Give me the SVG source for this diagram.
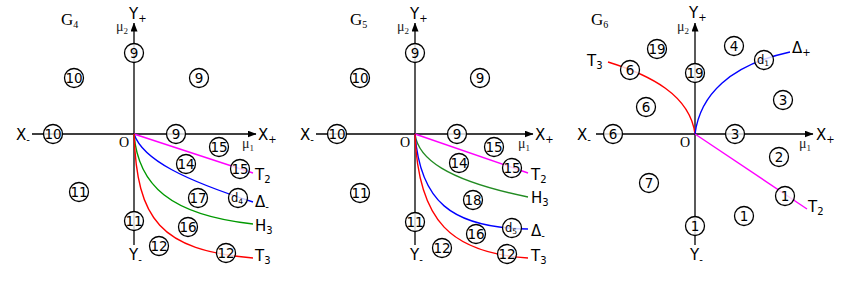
<svg xmlns="http://www.w3.org/2000/svg" width="844" height="281" viewBox="0 0 844 281">
<defs>
<marker id="ar" markerWidth="9" markerHeight="7" refX="8.5" refY="3.5" orient="auto" markerUnits="userSpaceOnUse"><path d="M0,0 L9,3.5 L0,7 z" fill="#000"/></marker>
<style>
.ax{stroke:#000;stroke-width:1.3;fill:none}
.cv{fill:none;stroke-width:1.4}
.nc{fill:#fff;fill-opacity:0.8;stroke:#000;stroke-width:1.3}
.nt{font-family:"DejaVu Sans",sans-serif;font-size:13.5px;text-anchor:middle;fill:#000}
.dt{font-family:"DejaVu Sans",sans-serif;font-size:11.5px;text-anchor:middle;fill:#000}
.lb{font-family:"DejaVu Sans",sans-serif;font-size:15px;fill:#000}
.ser{font-family:"Liberation Serif",serif;fill:#000}
.mu{font-family:"Liberation Serif",serif;font-size:14px;fill:#222}
</style>
</defs>
<rect width="844" height="281" fill="#fff"/>

<!-- ============ G4 ============ -->
<g id="G4-axes">
<line class="ax" x1="32" y1="134" x2="256" y2="134" marker-end="url(#ar)"/>
<line class="ax" x1="134" y1="245" x2="134" y2="23" marker-end="url(#ar)"/>
<text class="ser" x="61" y="25" font-size="17">G<tspan font-size="10" dy="3">4</tspan></text>
<text class="lb" x="129" y="19" font-size="14">Y<tspan font-size="10" dy="3">+</tspan></text>
<text class="mu" x="116" y="31">μ<tspan font-size="9" dy="3">2</tspan></text>
<text class="lb" x="258" y="140" font-size="14">X<tspan font-size="10" dy="3">+</tspan></text>
<text class="lb" x="16" y="140" font-size="14">X<tspan font-size="10" dy="3">-</tspan></text>
<text class="lb" x="129" y="260" font-size="14">Y<tspan font-size="10" dy="3">-</tspan></text>
<text class="ser" x="119" y="147" font-size="14">O</text>
<text class="mu" x="242" y="148">μ<tspan font-size="9" dy="3">1</tspan></text>
<text class="lb" x="255" y="180">T<tspan font-size="10" dy="3">2</tspan></text>
<text class="lb" x="255" y="207">Δ<tspan font-size="10" dy="3">-</tspan></text>
<text class="lb" x="255" y="231">H<tspan font-size="10" dy="3">3</tspan></text>
<text class="lb" x="255" y="261">T<tspan font-size="10" dy="3">3</tspan></text>
</g>

<!-- ============ G5 ============ -->
<g id="G5-axes">
<line class="ax" x1="316" y1="134" x2="533" y2="134" marker-end="url(#ar)"/>
<line class="ax" x1="415" y1="245" x2="415" y2="23" marker-end="url(#ar)"/>
<text class="ser" x="350" y="25" font-size="17">G<tspan font-size="10" dy="3">5</tspan></text>
<text class="lb" x="410" y="19" font-size="14">Y<tspan font-size="10" dy="3">+</tspan></text>
<text class="mu" x="397" y="31">μ<tspan font-size="9" dy="3">2</tspan></text>
<text class="lb" x="535" y="140" font-size="14">X<tspan font-size="10" dy="3">+</tspan></text>
<text class="lb" x="300" y="140" font-size="14">X<tspan font-size="10" dy="3">-</tspan></text>
<text class="lb" x="410" y="260" font-size="14">Y<tspan font-size="10" dy="3">-</tspan></text>
<text class="ser" x="400" y="147" font-size="14">O</text>
<text class="mu" x="518" y="148">μ<tspan font-size="9" dy="3">1</tspan></text>
<text class="lb" x="531" y="180">T<tspan font-size="10" dy="3">2</tspan></text>
<text class="lb" x="531" y="203">H<tspan font-size="10" dy="3">3</tspan></text>
<text class="lb" x="531" y="236">Δ<tspan font-size="10" dy="3">-</tspan></text>
<text class="lb" x="531" y="261">T<tspan font-size="10" dy="3">3</tspan></text>
</g>

<!-- ============ G6 ============ -->
<g id="G6-axes">
<line class="ax" x1="596" y1="134" x2="813" y2="134" marker-end="url(#ar)"/>
<line class="ax" x1="695" y1="245" x2="695" y2="23" marker-end="url(#ar)"/>
<text class="ser" x="591" y="25" font-size="17">G<tspan font-size="10" dy="3">6</tspan></text>
<text class="lb" x="689" y="18" font-size="14">Y<tspan font-size="10" dy="3">+</tspan></text>
<text class="mu" x="677" y="31">μ<tspan font-size="9" dy="3">2</tspan></text>
<text class="lb" x="816" y="140" font-size="14">X<tspan font-size="10" dy="3">+</tspan></text>
<text class="lb" x="577" y="140" font-size="14">X<tspan font-size="10" dy="3">-</tspan></text>
<text class="lb" x="690" y="260" font-size="14">Y<tspan font-size="10" dy="3">-</tspan></text>
<text class="ser" x="680" y="147" font-size="14">O</text>
<text class="mu" x="799" y="148">μ<tspan font-size="9" dy="3">1</tspan></text>
<text class="lb" x="808" y="212">T<tspan font-size="10" dy="3">2</tspan></text>
<text class="lb" x="587" y="66">T<tspan font-size="10" dy="3">3</tspan></text>
<text class="lb" x="792" y="53">Δ<tspan font-size="10" dy="3">+</tspan></text>
</g>

<!-- connectors / curves -->
<g id="connectors">
<path class="cv" stroke="#ff00ff" d="M134,134 L253,173"/>
<path class="cv" stroke="#0000ff" d="M134,134 C143,160 185,180 253,202"/>
<path class="cv" stroke="#009900" d="M134,134 C138,185 170,215 253,224"/>
<path class="cv" stroke="#ff0000" d="M134,134 C137,220 160,250 253,258"/>

<path class="cv" stroke="#ff00ff" d="M415,134 L528,173"/>
<path class="cv" stroke="#228b22" d="M415,134 C418,158 445,180 528,197"/>
<path class="cv" stroke="#0000ff" stroke-width="2" d="M415,134 C420,200 450,228 528,229"/>
<path class="cv" stroke="#ff0000" d="M415,134 C418,222 452,253 528,258"/>

<path class="cv" stroke="#ff00ff" d="M695,134 L807,209"/>
<path class="cv" stroke="#ff0000" d="M608,62 C650,75 690,95 695,134"/>
<path class="cv" stroke="#0000ff" d="M695,134 C700,95 730,65 790,52"/>
</g>

<!-- nodes G4 -->
<g id="g4-n9a"><circle class="nc" cx="134" cy="53" r="9.5"/><text class="nt" x="134" y="58">9</text></g>
<g id="g4-n10a"><circle class="nc" cx="74" cy="78" r="9.5"/><text class="nt" x="74" y="83">10</text></g>
<g id="g4-n9b"><circle class="nc" cx="199" cy="78" r="9.5"/><text class="nt" x="199" y="83">9</text></g>
<g id="g4-n10b"><circle class="nc" cx="53" cy="134" r="9.5"/><text class="nt" x="53" y="139">10</text></g>
<g id="g4-n9c"><circle class="nc" cx="176" cy="134" r="9.5"/><text class="nt" x="176" y="139">9</text></g>
<g id="g4-n15a"><circle class="nc" cx="219" cy="147" r="9.5"/><text class="nt" x="219" y="152">15</text></g>
<g id="g4-n14"><circle class="nc" cx="186" cy="164" r="9.5"/><text class="nt" x="186" y="169">14</text></g>
<g id="g4-n15b"><circle class="nc" cx="240" cy="169" r="9.5"/><text class="nt" x="240" y="174">15</text></g>
<g id="g4-n11a"><circle class="nc" cx="79" cy="192" r="9.5"/><text class="nt" x="79" y="197">11</text></g>
<g id="g4-n17"><circle class="nc" cx="198" cy="198" r="9.5"/><text class="nt" x="198" y="203">17</text></g>
<g id="g4-d4"><circle class="nc" cx="238" cy="198" r="9.5"/><text class="dt" x="237" y="202">d<tspan font-size="7.5" dy="2">4</tspan></text></g>
<g id="g4-n11b"><circle class="nc" cx="134" cy="221" r="9.5"/><text class="nt" x="134" y="226">11</text></g>
<g id="g4-n16"><circle class="nc" cx="188" cy="227" r="9.5"/><text class="nt" x="188" y="232">16</text></g>
<g id="g4-n12a"><circle class="nc" cx="159" cy="246" r="9.5"/><text class="nt" x="159" y="251">12</text></g>
<g id="g4-n12b"><circle class="nc" cx="226" cy="253" r="9.5"/><text class="nt" x="226" y="258">12</text></g>

<!-- nodes G5 -->
<g id="g5-n9a"><circle class="nc" cx="415" cy="53" r="9.5"/><text class="nt" x="415" y="58">9</text></g>
<g id="g5-n10a"><circle class="nc" cx="360" cy="78" r="9.5"/><text class="nt" x="360" y="83">10</text></g>
<g id="g5-n9b"><circle class="nc" cx="480" cy="78" r="9.5"/><text class="nt" x="480" y="83">9</text></g>
<g id="g5-n10b"><circle class="nc" cx="337" cy="134" r="9.5"/><text class="nt" x="337" y="139">10</text></g>
<g id="g5-n9c"><circle class="nc" cx="457" cy="134" r="9.5"/><text class="nt" x="457" y="139">9</text></g>
<g id="g5-n15a"><circle class="nc" cx="494" cy="147" r="9.5"/><text class="nt" x="494" y="152">15</text></g>
<g id="g5-n14"><circle class="nc" cx="459" cy="163" r="9.5"/><text class="nt" x="459" y="168">14</text></g>
<g id="g5-n15b"><circle class="nc" cx="512" cy="168" r="9.5"/><text class="nt" x="512" y="173">15</text></g>
<g id="g5-n11a"><circle class="nc" cx="360" cy="193" r="9.5"/><text class="nt" x="360" y="198">11</text></g>
<g id="g5-n18"><circle class="nc" cx="473" cy="200" r="9.5"/><text class="nt" x="473" y="205">18</text></g>
<g id="g5-n11b"><circle class="nc" cx="415" cy="222" r="9.5"/><text class="nt" x="415" y="227">11</text></g>
<g id="g5-d5"><circle class="nc" cx="512" cy="228" r="9.5"/><text class="dt" x="511" y="232">d<tspan font-size="7.5" dy="2">5</tspan></text></g>
<g id="g5-n16"><circle class="nc" cx="476" cy="234" r="9.5"/><text class="nt" x="476" y="239">16</text></g>
<g id="g5-n12a"><circle class="nc" cx="442" cy="248" r="9.5"/><text class="nt" x="442" y="253">12</text></g>
<g id="g5-n12b"><circle class="nc" cx="507" cy="254" r="9.5"/><text class="nt" x="507" y="259">12</text></g>

<!-- nodes G6 -->
<g id="g6-n19a"><circle class="nc" cx="657" cy="49" r="9.5"/><text class="nt" x="657" y="54">19</text></g>
<g id="g6-n4"><circle class="nc" cx="734" cy="46" r="9.5"/><text class="nt" x="734" y="51">4</text></g>
<g id="g6-d1"><circle class="nc" cx="764" cy="60" r="9.5"/><text class="dt" x="763" y="64">d<tspan font-size="7.5" dy="2">1</tspan></text></g>
<g id="g6-n6a"><circle class="nc" cx="630" cy="70" r="9.5"/><text class="nt" x="630" y="75">6</text></g>
<g id="g6-n19b"><circle class="nc" cx="695" cy="73" r="9.5"/><text class="nt" x="695" y="78">19</text></g>
<g id="g6-n3a"><circle class="nc" cx="783" cy="100" r="9.5"/><text class="nt" x="783" y="105">3</text></g>
<g id="g6-n6b"><circle class="nc" cx="646" cy="107" r="9.5"/><text class="nt" x="646" y="112">6</text></g>
<g id="g6-n6c"><circle class="nc" cx="613" cy="134" r="9.5"/><text class="nt" x="613" y="139">6</text></g>
<g id="g6-n3b"><circle class="nc" cx="735" cy="134" r="9.5"/><text class="nt" x="735" y="139">3</text></g>
<g id="g6-n2"><circle class="nc" cx="779" cy="157" r="9.5"/><text class="nt" x="779" y="162">2</text></g>
<g id="g6-n7"><circle class="nc" cx="649" cy="183" r="9.5"/><text class="nt" x="649" y="188">7</text></g>
<g id="g6-n1a"><circle class="nc" cx="785" cy="196" r="9.5"/><text class="nt" x="785" y="201">1</text></g>
<g id="g6-n1b"><circle class="nc" cx="744" cy="216" r="9.5"/><text class="nt" x="744" y="221">1</text></g>
<g id="g6-n1c"><circle class="nc" cx="695" cy="226" r="9.5"/><text class="nt" x="695" y="231">1</text></g>
</svg>
